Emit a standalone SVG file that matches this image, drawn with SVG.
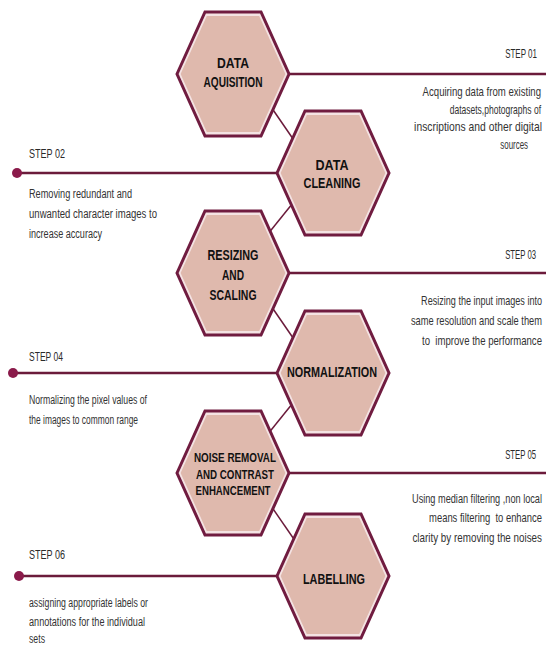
<svg xmlns="http://www.w3.org/2000/svg" width="546" height="645" viewBox="0 0 546 645">
<defs>
<style>
.hexo{fill:#f4e3e3;stroke:#701c40;stroke-width:3;stroke-linejoin:miter}
.hexi{fill:#dfb9ad}
.lbl{font-family:"Liberation Sans",Arial,sans-serif;font-weight:bold;font-size:14px;fill:#111;text-anchor:middle}
.lbl2{font-family:"Liberation Sans",Arial,sans-serif;font-weight:bold;font-size:12.5px;fill:#111;text-anchor:middle}
.step{font-family:"Liberation Sans",Arial,sans-serif;font-size:12.5px;fill:#2a2a2a}
.desc{font-family:"Liberation Sans",Arial,sans-serif;font-size:12px;fill:#333}
.r{text-anchor:end}
.hl{stroke:#6b1b3b;stroke-width:2.5;fill:none}
.cn{stroke:#6b1b3b;stroke-width:1.5;fill:none}
.dot{fill:#8a1a4a}
</style>
<g id="hex">
<polygon class="hexo" points="-56,0 -28,-62 28,-62 56,0 28,62 -28,62"/>
<polygon class="hexi" points="-52.4,0 -26.2,-58 26.2,-58 52.4,0 26.2,58 -26.2,58"/>
</g>
</defs>
<rect width="546" height="645" fill="#ffffff"/>
<g id="connectors">
<line class="hl" x1="289" y1="74" x2="546" y2="74"/>
<line class="hl" x1="17" y1="173" x2="277" y2="173"/>
<circle class="dot" cx="17" cy="173" r="5"/>
<line class="hl" x1="289" y1="273" x2="546" y2="273"/>
<line class="hl" x1="13" y1="373" x2="277" y2="373"/>
<circle class="dot" cx="13" cy="373" r="5"/>
<line class="hl" x1="289" y1="473" x2="546" y2="473"/>
<line class="hl" x1="19" y1="576" x2="277" y2="576"/>
<circle class="dot" cx="19" cy="576" r="5"/>
<line class="cn" x1="258" y1="88" x2="300" y2="149"/>
<line class="cn" x1="255" y1="250" x2="305" y2="188"/>
<line class="cn" x1="258" y1="287" x2="300" y2="348"/>
<line class="cn" x1="255" y1="450" x2="305" y2="388"/>
<line class="cn" x1="258" y1="487" x2="300" y2="548"/>
</g>
<g id="n1"><use href="#hex" transform="translate(233,74)"/>
<text class="lbl" x="233" y="68" textLength="32" lengthAdjust="spacingAndGlyphs">DATA</text>
<text class="lbl" x="233" y="87" textLength="59" lengthAdjust="spacingAndGlyphs">AQUISITION</text></g>
<g id="n2"><use href="#hex" transform="translate(333,173)"/>
<text class="lbl" x="332" y="170" textLength="33" lengthAdjust="spacingAndGlyphs">DATA</text>
<text class="lbl" x="332" y="188" textLength="57" lengthAdjust="spacingAndGlyphs">CLEANING</text></g>
<g id="n3"><use href="#hex" transform="translate(233,273)"/>
<text class="lbl" x="233" y="260" textLength="51" lengthAdjust="spacingAndGlyphs">RESIZING</text>
<text class="lbl" x="233" y="280" textLength="22" lengthAdjust="spacingAndGlyphs">AND</text>
<text class="lbl" x="233" y="300" textLength="47" lengthAdjust="spacingAndGlyphs">SCALING</text></g>
<g id="n4"><use href="#hex" transform="translate(333,373)"/>
<text class="lbl" x="332" y="377" textLength="90" lengthAdjust="spacingAndGlyphs">NORMALIZATION</text></g>
<g id="n5"><use href="#hex" transform="translate(233,473)"/>
<text class="lbl2" x="235" y="462" textLength="82" lengthAdjust="spacingAndGlyphs">NOISE REMOVAL</text>
<text class="lbl2" x="235" y="479" textLength="78" lengthAdjust="spacingAndGlyphs">AND CONTRAST</text>
<text class="lbl2" x="233" y="495" textLength="75" lengthAdjust="spacingAndGlyphs">ENHANCEMENT</text></g>
<g id="n6"><use href="#hex" transform="translate(333,576)"/>
<text class="lbl" x="334" y="584" textLength="62" lengthAdjust="spacingAndGlyphs">LABELLING</text></g>
<g id="texts">
<text class="step r" transform="translate(537,58) scale(0.64,1)">STEP 01</text>
<text class="desc r" transform="translate(541,96) scale(0.8,1)">Acquiring data from existing</text>
<text class="desc r" transform="translate(541,114) scale(0.71,1)">datasets,photographs of</text>
<text class="desc r" transform="translate(542,131) scale(0.86,1)">inscriptions and other digital</text>
<text class="desc r" transform="translate(528,149) scale(0.66,1)">sources</text>
<text class="step" x="29" y="158" textLength="36" lengthAdjust="spacingAndGlyphs">STEP 02</text>
<text class="desc" x="29" y="198" textLength="103" lengthAdjust="spacingAndGlyphs">Removing redundant and</text>
<text class="desc" x="29" y="218" textLength="128" lengthAdjust="spacingAndGlyphs">unwanted character images to</text>
<text class="desc" x="29" y="238" textLength="73" lengthAdjust="spacingAndGlyphs">increase accuracy</text>
<text class="step r" transform="translate(536,259) scale(0.62,1)">STEP 03</text>
<text class="desc r" transform="translate(542,305) scale(0.756,1)">Resizing the input images into</text>
<text class="desc r" transform="translate(542,325) scale(0.775,1)">same resolution and scale them</text>
<text class="desc r" transform="translate(542,345) scale(0.8,1)" xml:space="preserve">to  improve the performance</text>
<text class="step" x="29" y="361" textLength="34" lengthAdjust="spacingAndGlyphs">STEP 04</text>
<text class="desc" x="29" y="404" textLength="118" lengthAdjust="spacingAndGlyphs">Normalizing the pixel values of</text>
<text class="desc" x="29" y="424" textLength="109" lengthAdjust="spacingAndGlyphs">the images to common range</text>
<text class="step r" transform="translate(536,459) scale(0.62,1)">STEP 05</text>
<text class="desc r" transform="translate(542,503) scale(0.765,1)">Using median filtering ,non local</text>
<text class="desc r" transform="translate(542,522) scale(0.785,1)" xml:space="preserve">means filtering  to enhance</text>
<text class="desc r" transform="translate(542,542) scale(0.82,1)">clarity by removing the noises</text>
<text class="step" x="29" y="559" textLength="36" lengthAdjust="spacingAndGlyphs">STEP 06</text>
<text class="desc" x="29" y="607" textLength="119" lengthAdjust="spacingAndGlyphs">assigning appropriate labels or</text>
<text class="desc" x="29" y="626" textLength="116" lengthAdjust="spacingAndGlyphs">annotations for the individual</text>
<text class="desc" x="29" y="643" textLength="16" lengthAdjust="spacingAndGlyphs">sets</text>
</g>
</svg>
